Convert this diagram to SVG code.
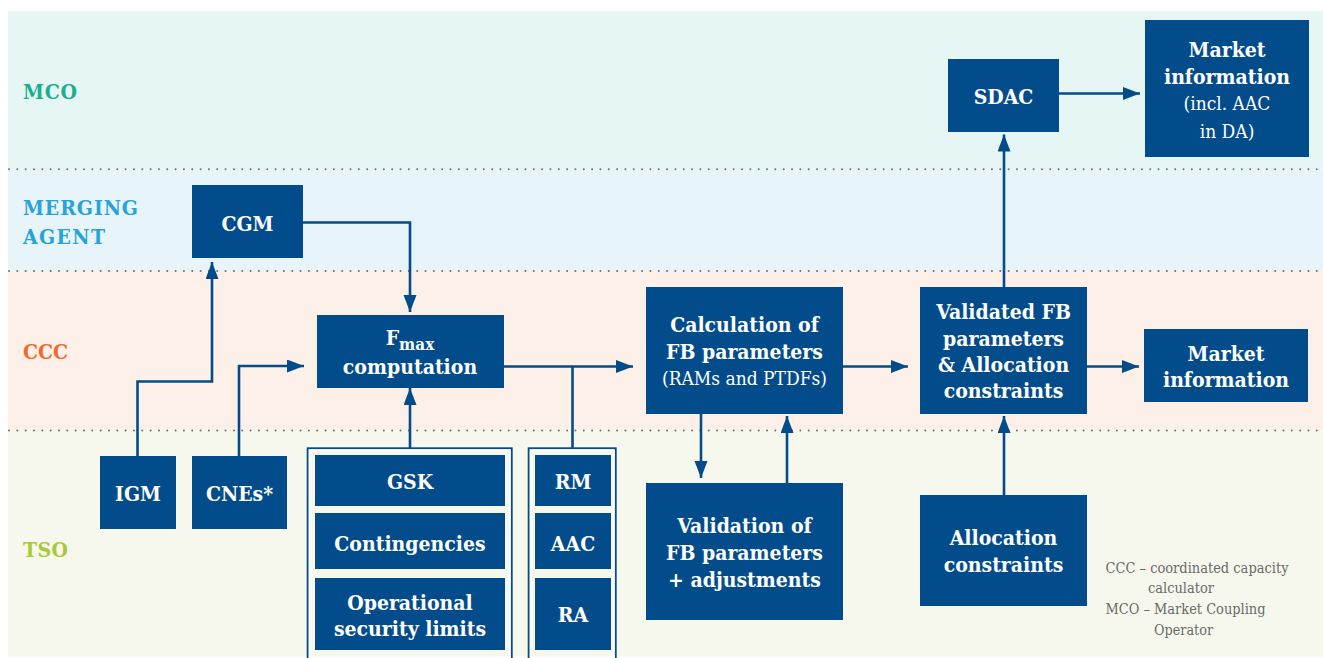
<svg xmlns="http://www.w3.org/2000/svg" width="1323" height="658" viewBox="0 0 1323 658">
<defs>
<style>
.box{fill:#034c8c}
.bt{font-family:"DejaVu Serif Condensed","DejaVu Serif",serif;font-stretch:condensed;font-weight:bold;font-size:21px;fill:#ffffff;text-anchor:middle}
.rt{font-family:"DejaVu Serif Condensed","DejaVu Serif",serif;font-stretch:condensed;font-weight:normal;font-size:19px;fill:#ffffff;text-anchor:middle}
.lane{font-family:"DejaVu Serif Condensed","DejaVu Serif",serif;font-stretch:condensed;font-weight:bold;font-size:21px}
.leg{font-family:"DejaVu Serif Condensed","DejaVu Serif",serif;font-stretch:condensed;font-size:15.5px;fill:#6a6a6a}
.dots{stroke:#6f6f6f;stroke-width:2;stroke-linecap:round;stroke-dasharray:0 8.33;fill:none}
.conn{stroke:#034c8c;stroke-width:2.6;fill:none}
</style>
<marker id="ah" markerUnits="userSpaceOnUse" markerWidth="18" markerHeight="14" refX="17" refY="6.5" orient="auto">
<path d="M0,0 L17,6.5 L0,13 Z" fill="#034c8c"/>
</marker>
</defs>
<g id="lanes">
<rect x="8" y="11" width="1315" height="158.5" fill="#e6f6f5"/>
<rect x="8" y="169.5" width="1315" height="101.5" fill="#e7f4fa"/>
<rect x="8" y="271" width="1315" height="159.5" fill="#fdf0e9"/>
<rect x="8" y="430.5" width="1315" height="226" fill="#f7f8ed"/>
<path class="dots" d="M9,169.3 H1323"/>
<path class="dots" d="M9,271 H1323"/>
<path class="dots" d="M9,430.5 H1323"/>
<text class="lane" x="23" y="99" fill="#1aae8e" textLength="54" lengthAdjust="spacing">MCO</text>
<text class="lane" x="23" y="215" fill="#27a3dc" textLength="115" lengthAdjust="spacing">MERGING</text>
<text class="lane" x="23" y="244" fill="#27a3dc" textLength="82" lengthAdjust="spacing">AGENT</text>
<text class="lane" x="23" y="359" fill="#f26a2b" textLength="45" lengthAdjust="spacing">CCC</text>
<text class="lane" x="23" y="557" fill="#a9c93a" textLength="45" lengthAdjust="spacing">TSO</text>
</g>
<g id="connectors">
<path class="conn" d="M137.5,456 V381.5 H212 V262" marker-end="url(#ah)"/>
<path class="conn" d="M239,456 V366 H304" marker-end="url(#ah)"/>
<path class="conn" d="M303,222.5 H410 V312" marker-end="url(#ah)"/>
<path class="conn" d="M410,448 V388" marker-end="url(#ah)"/>
<path class="conn" d="M504,366.5 H633" marker-end="url(#ah)"/>
<path class="conn" d="M572.5,448 V366.5"/>
<path class="conn" d="M701,414 V478" marker-end="url(#ah)"/>
<path class="conn" d="M787,483 V416" marker-end="url(#ah)"/>
<path class="conn" d="M843,366.5 H908" marker-end="url(#ah)"/>
<path class="conn" d="M1004,287 V134.5" marker-end="url(#ah)"/>
<path class="conn" d="M1059,93.5 H1140" marker-end="url(#ah)"/>
<path class="conn" d="M1087,366.5 H1139" marker-end="url(#ah)"/>
<path class="conn" d="M1004,495 V416" marker-end="url(#ah)"/>
</g>
<g id="cgm"><rect class="box" x="192" y="185" width="111" height="73"/><text class="bt" x="247.5" y="231">CGM</text></g>
<g id="igm"><rect class="box" x="100" y="456" width="76" height="73"/><text class="bt" x="138" y="501">IGM</text></g>
<g id="cnes"><rect class="box" x="192" y="456" width="95" height="73"/><text class="bt" x="239.5" y="501">CNEs*</text></g>
<g id="fmax"><rect class="box" x="317" y="315" width="187" height="73"/>
<text class="bt" x="410" y="344.5">F<tspan font-size="17" dy="5">max</tspan></text>
<text class="bt" x="410" y="373.5">computation</text></g>
<g id="group-left">
<rect x="307.7" y="448.3" width="204" height="230" fill="none" stroke="#034c8c" stroke-width="2"/>
<rect x="309.7" y="450.3" width="200" height="230" fill="none" stroke="#ffffff" stroke-width="2"/>
</g>
<g id="gsk"><rect class="box" x="315" y="455" width="190" height="51"/><text class="bt" x="410" y="488.5">GSK</text></g>
<g id="contingencies"><rect class="box" x="315" y="513" width="190" height="56"/><text class="bt" x="410" y="551">Contingencies</text></g>
<g id="osl"><rect class="box" x="315" y="578" width="190" height="72"/><text class="bt" x="410" y="609.5">Operational</text><text class="bt" x="410" y="635.5">security limits</text></g>
<g id="group-right">
<rect x="528.7" y="448.3" width="87" height="230" fill="none" stroke="#034c8c" stroke-width="2"/>
<rect x="530.7" y="450.3" width="83" height="230" fill="none" stroke="#ffffff" stroke-width="2"/>
</g>
<g id="rm"><rect class="box" x="535" y="455" width="76" height="51"/><text class="bt" x="573" y="488.5">RM</text></g>
<g id="aac"><rect class="box" x="535" y="513" width="76" height="56"/><text class="bt" x="573" y="551">AAC</text></g>
<g id="ra"><rect class="box" x="535" y="578" width="76" height="72"/><text class="bt" x="573" y="622">RA</text></g>
<g id="calc"><rect class="box" x="646" y="287" width="197" height="127"/>
<text class="bt" x="744.5" y="331.5">Calculation of</text>
<text class="bt" x="744.5" y="359">FB parameters</text>
<text class="rt" x="744.5" y="385">(RAMs and PTDFs)</text></g>
<g id="validation"><rect class="box" x="646" y="483" width="197" height="137"/>
<text class="bt" x="744.5" y="532.5">Validation of</text>
<text class="bt" x="744.5" y="560">FB parameters</text>
<text class="bt" x="744.5" y="586.5">+ adjustments</text></g>
<g id="validated"><rect class="box" x="920" y="287" width="167" height="127"/>
<text class="bt" x="1003.5" y="318.5">Validated FB</text>
<text class="bt" x="1003.5" y="346">parameters</text>
<text class="bt" x="1003.5" y="371.5">&amp; Allocation</text>
<text class="bt" x="1003.5" y="398">constraints</text></g>
<g id="allocation"><rect class="box" x="920" y="495" width="167" height="111"/>
<text class="bt" x="1003.5" y="545">Allocation</text>
<text class="bt" x="1003.5" y="571.5">constraints</text></g>
<g id="sdac"><rect class="box" x="948" y="59" width="111" height="73"/><text class="bt" x="1003.5" y="104">SDAC</text></g>
<g id="market-mco"><rect class="box" x="1145" y="20" width="164" height="137"/>
<text class="bt" x="1227" y="56.5">Market</text>
<text class="bt" x="1227" y="83.5">information</text>
<text class="rt" x="1227" y="110">(incl. AAC</text>
<text class="rt" x="1227" y="137.5">in DA)</text></g>
<g id="market-ccc"><rect class="box" x="1144" y="329" width="164" height="73"/>
<text class="bt" x="1226" y="361">Market</text>
<text class="bt" x="1226" y="387">information</text></g>
<g id="legend">
<text class="leg" x="1105.5" y="572.5" textLength="183" lengthAdjust="spacingAndGlyphs">CCC – coordinated capacity</text>
<text class="leg" x="1148" y="593" textLength="66" lengthAdjust="spacingAndGlyphs">calculator</text>
<text class="leg" x="1105.5" y="614" textLength="160" lengthAdjust="spacingAndGlyphs">MCO – Market Coupling</text>
<text class="leg" x="1154" y="635" textLength="59" lengthAdjust="spacingAndGlyphs">Operator</text>
</g>
</svg>
